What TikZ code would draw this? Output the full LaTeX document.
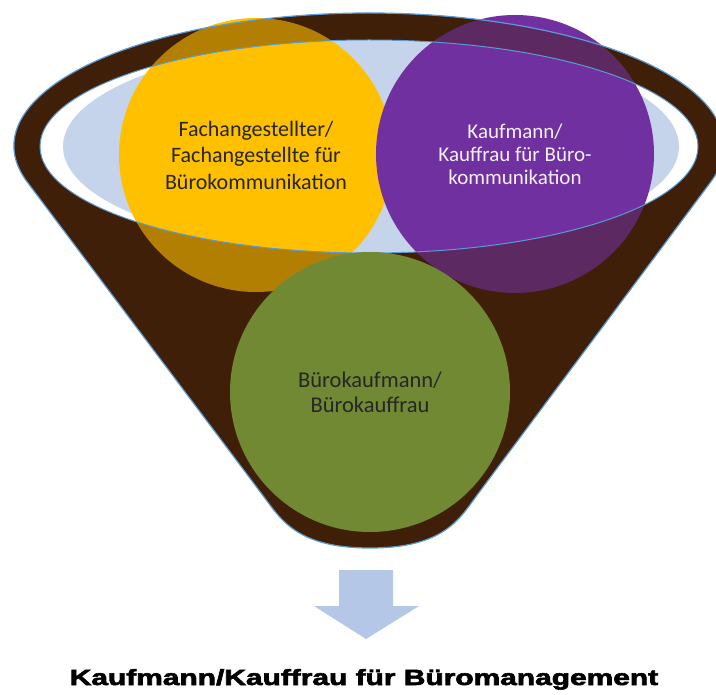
\documentclass[tikz,border=0pt]{standalone}
\usepackage{fontspec}
\setmainfont{Carlito}
\newfontfamily\titlefont[FakeBold=2.5]{Liberation Sans}
\usepackage{xcolor}
\usepackage{tikz}

\definecolor{funnelbrown}{RGB}{64,31,8}
\definecolor{openblue}{RGB}{197,212,234}
\definecolor{rimblue}{RGB}{91,155,213}
\definecolor{arrowblue}{RGB}{180,199,231}
\definecolor{fachyellow}{RGB}{255,192,0}
\definecolor{kaufpurple}{RGB}{112,48,160}
\definecolor{bueroGreen}{RGB}{114,137,52}

\newcommand{\funnelpath}{(27.3,182.1) arc [start angle=164.26, end angle=375.62, x radius=355, y radius=133]
  -- (477.9,494) .. controls (460,518) and (445,548) .. (370,548)
  .. controls (295,548) and (280,518) .. (261.8,494) -- cycle}

\begin{document}
\begin{tikzpicture}[x=1pt, y=-1pt,
    course/.style={circle, minimum size=#1, inner sep=0pt, align=center},
    rim/.style={draw=rimblue, line width=1.2pt}]
    \useasboundingbox (0,0) rectangle (716,695);
    % funnel and its opening
    \fill [funnelbrown] \funnelpath;
    \fill [white] (369,146.5) ellipse [x radius=329, y radius=106.5];
    \fill [openblue] (371,146.5) ellipse [x radius=308, y radius=106];
    % the two older trainings
    \node [course=274pt, fill=fachyellow, text=black!85,
      font=\fontsize{22}{26.5}\selectfont] (fach) at (256,155)
      {Fachangestellter/\\Fachangestellte für\\Bürokommunikation};
    \node [course=278pt, fill=kaufpurple, text=white!95!black,
      font=\fontsize{21}{23}\selectfont] (kauf) at (515,154)
      {Kaufmann/\\Kauffrau für Büro-\\kommunikation};
    % shade of the funnel wall
    \fill [funnelbrown, opacity=0.4, even odd rule] \funnelpath
      (369,146.5) ellipse [x radius=329, y radius=106.5];
    \draw [rim] \funnelpath;
    \draw [rim, line width=1pt] (369,146.5) ellipse [x radius=329, y radius=106.5];
    \node [course=280pt, fill=bueroGreen, text=black!85,
      font=\fontsize{22.5}{25}\selectfont] (buero) at (370,392)
      {Bürokaufmann/\\Bürokauffrau};
    % down arrow and result
    \fill [arrowblue] (339,570) -- (393,570) -- (393,606) -- (419,606)
      -- (366,639) -- (314,606) -- (339,606) -- cycle;
    \node [anchor=base] (neu) at (364,685)
      {\scalebox{1.36}[1]{\titlefont\bfseries\fontsize{22}{25}\selectfont Kaufmann/Kauffrau für Büromanagement}};
\end{tikzpicture}
\end{document}
